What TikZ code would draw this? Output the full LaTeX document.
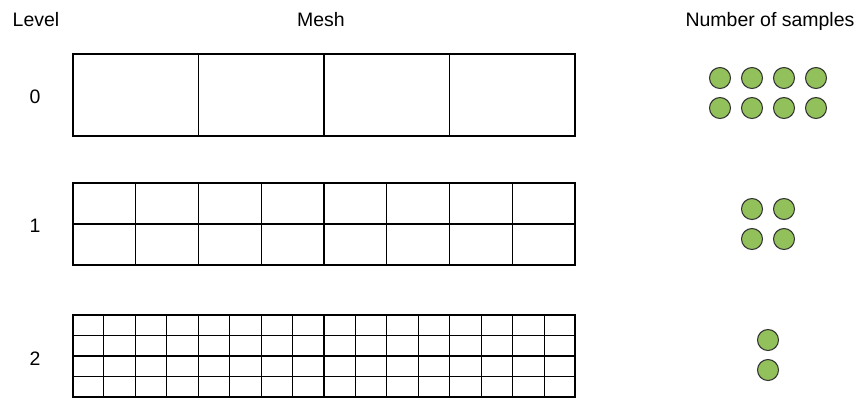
\documentclass[tikz,border=0pt]{standalone}
\usepackage{fontspec}
\setmainfont{Liberation Sans}
\usetikzlibrary{positioning,calc}
\definecolor{sampleGreen}{HTML}{92C05A}
\tikzset{
  lbl/.style={font=\fontsize{14.6}{17}\selectfont, inner sep=0pt, anchor=base},
  meshbox/.style={draw=black, line width=0.8pt, minimum width=376.5pt, minimum height=61.5pt, inner sep=0pt},
  gridline/.style={line width=0.8pt},
  sample/.style={circle, draw=black!80, fill=sampleGreen, minimum size=15.75pt, inner sep=0pt, line width=0.8pt},
}
\begin{document}
\begin{tikzpicture}[x=0.75pt, y=-0.75pt]
\useasboundingbox (0,0) rectangle (865,401);
% headings
\node[lbl] (level) at (36,26) {Level};
\node[lbl] (mesh) at (321,26) {Mesh};
\node[lbl] (samples) at (770,26) {Number of samples};
% level numbers
\node[lbl] (lv0) at (35,103) {0};
\node[lbl] (lv1) at (35,232) {1};
\node[lbl] (lv2) at (35,365) {2};
% meshes
\node[meshbox] (mesh0) at (324,95) {};
\node[meshbox] (mesh1) at (324,224) {};
\node[meshbox] (mesh2) at (324,356) {};
\foreach \i in {1,...,3}
  \draw[gridline] ($(mesh0.north west)!\i/4!(mesh0.north east)$) -- ($(mesh0.south west)!\i/4!(mesh0.south east)$);
\foreach \i in {1,...,7}
  \draw[gridline] ($(mesh1.north west)!\i/8!(mesh1.north east)$) -- ($(mesh1.south west)!\i/8!(mesh1.south east)$);
\draw[gridline] (mesh1.west) -- (mesh1.east);
\foreach \i in {1,...,15}
  \draw[gridline] ($(mesh2.north west)!\i/16!(mesh2.north east)$) -- ($(mesh2.south west)!\i/16!(mesh2.south east)$);
\foreach \j in {1,...,3}
  \draw[gridline] ($(mesh2.north west)!\j/4!(mesh2.south west)$) -- ($(mesh2.north east)!\j/4!(mesh2.south east)$);
% samples
\foreach \x in {720,752,784,816}
  \foreach \y in {78,108}
    \node[sample] (s0-\x-\y) at (\x,\y) {};
\foreach \x in {752,784}
  \foreach \y in {209,239}
    \node[sample] (s1-\x-\y) at (\x,\y) {};
\node[sample] (s2a) at (768,340) {};
\node[sample] (s2b) at (768,370) {};
\end{tikzpicture}
\end{document}
